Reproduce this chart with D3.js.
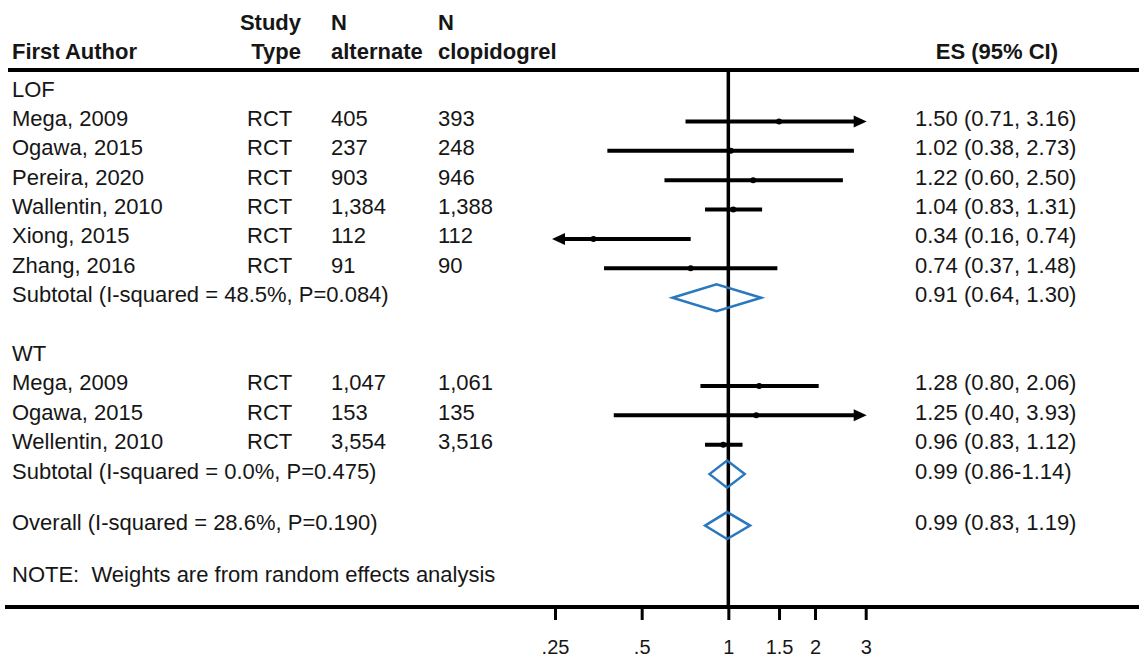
<!DOCTYPE html>
<html><head><meta charset="utf-8">
<script src="https://cdn.jsdelivr.net/npm/d3@7"></script>
<style>
body{margin:0;background:#fff}
text{font-family:"Liberation Sans",Arial,Helvetica,sans-serif;fill:#161616}
</style>
</head><body>
<svg id="chart" width="1139" height="661"></svg>
<script>
// ---------- data ----------
const groupNames = ["LOF", "WT"];
const studyAuthors = ["Mega, 2009","Ogawa, 2015","Pereira, 2020","Wallentin, 2010","Xiong, 2015","Zhang, 2016",
                      "Mega, 2009","Ogawa, 2015","Wellentin, 2010"];
const studyGroup = ["LOF","LOF","LOF","LOF","LOF","LOF","WT","WT","WT"];
const studyType = ["RCT","RCT","RCT","RCT","RCT","RCT","RCT","RCT","RCT"];
const nAlternate = ["405","237","903","1,384","112","91","1,047","153","3,554"];
const nClopidogrel = ["393","248","946","1,388","112","90","1,061","135","3,516"];
const studyES = [1.50, 1.02, 1.22, 1.04, 0.34, 0.74, 1.28, 1.25, 0.96];
const studyLow = [0.71, 0.38, 0.60, 0.83, 0.16, 0.37, 0.80, 0.40, 0.83];
const studyHigh = [3.16, 2.73, 2.50, 1.31, 0.74, 1.48, 2.06, 3.93, 1.12];
const studyESLabel = ["1.50 (0.71, 3.16)","1.02 (0.38, 2.73)","1.22 (0.60, 2.50)","1.04 (0.83, 1.31)",
                      "0.34 (0.16, 0.74)","0.74 (0.37, 1.48)","1.28 (0.80, 2.06)","1.25 (0.40, 3.93)","0.96 (0.83, 1.12)"];
const subtotalLabel = ["Subtotal (I-squared = 48.5%, P=0.084)","Subtotal (I-squared = 0.0%, P=0.475)"];
const subtotalES = [0.91, 0.99];
const subtotalLow = [0.64, 0.86];
const subtotalHigh = [1.30, 1.14];
const subtotalESLabel = ["0.91 (0.64, 1.30)","0.99 (0.86-1.14)"];
const overallLabel = "Overall (I-squared = 28.6%, P=0.190)";
const overallES = 0.99, overallLow = 0.83, overallHigh = 1.19;
const overallESLabel = "0.99 (0.83, 1.19)";
const noteText = "NOTE:  Weights are from random effects analysis";
const tickValues = [0.25, 0.5, 1, 1.5, 2, 3];
const tickLabels = [".25", ".5", "1", "1.5", "2", "3"];

// ---------- layout ----------
const W = 1139;
const svg = d3.select("#chart");
const fs = 22;
const col = {author: 12, typeRight: 301, type: 247, nAlt: 331, nClop: 438, es: 915, esHeaderRight: 1058};
const headerLineY = 70, axisY = 607;
const gapAfterGroup = [1, 0.75];
const gapAfterOverall = 0.75;

// build row list (row units; extra spacing after each subtotal)
const rows = [];
let pos = 0;
groupNames.forEach((g, gi) => {
  rows.push({kind: "group", pos: pos, label: g}); pos += 1;
  studyAuthors.forEach((a, i) => {
    if (studyGroup[i] !== g) return;
    rows.push({kind: "study", pos: pos, i: i}); pos += 1;
  });
  rows.push({kind: "subtotal", pos: pos, label: subtotalLabel[gi], es: subtotalES[gi],
             lo: subtotalLow[gi], hi: subtotalHigh[gi], esLabel: subtotalESLabel[gi]});
  pos += 1 + gapAfterGroup[gi];
});
rows.push({kind: "overall", pos: pos, label: overallLabel, es: overallES, lo: overallLow,
           hi: overallHigh, esLabel: overallESLabel});
pos += 1 + gapAfterOverall;
rows.push({kind: "note", pos: pos, label: noteText});

const y = d3.scaleLinear().domain([0, pos]).range([92, 577]);
const x = d3.scaleLog().domain([0.25, 3]).range([555, 865.7]);
const [xMin, xMax] = x.domain();

// ---------- header ----------
const hdr = svg.append("g").style("font-weight", "bold").style("font-size", fs + "px");
hdr.append("text").attr("x", col.author).attr("y", 59).text("First Author");
hdr.append("text").attr("x", col.typeRight).attr("y", 30).attr("text-anchor", "end").text("Study");
hdr.append("text").attr("x", col.typeRight).attr("y", 59).attr("text-anchor", "end").text("Type");
hdr.append("text").attr("x", col.nAlt).attr("y", 30).text("N");
hdr.append("text").attr("x", col.nAlt).attr("y", 59).text("alternate");
hdr.append("text").attr("x", col.nClop).attr("y", 30).text("N");
hdr.append("text").attr("x", col.nClop).attr("y", 59).text("clopidogrel");
hdr.append("text").attr("x", col.esHeaderRight).attr("y", 59).attr("text-anchor", "end").text("ES (95% CI)");

svg.append("line").attr("x1", 8).attr("x2", W).attr("y1", headerLineY).attr("y2", headerLineY)
  .attr("stroke", "#000").attr("stroke-width", 4);
svg.append("line").attr("x1", 5).attr("x2", W).attr("y1", axisY).attr("y2", axisY)
  .attr("stroke", "#000").attr("stroke-width", 4);

// null line at 1
svg.append("line").attr("x1", x(1)).attr("x2", x(1)).attr("y1", headerLineY).attr("y2", axisY)
  .attr("stroke", "#000").attr("stroke-width", 3.5);

// ---------- rows ----------
const txt = svg.append("g").style("font-size", fs + "px");
const marks = svg.append("g");
const base = 4.5;

function arrowHead(g, tipX, yy, dir) {
  const L = 13, h = 6;
  g.append("path")
    .attr("d", `M${tipX},${yy} L${tipX - dir * L},${yy - h} L${tipX - dir * L},${yy + h} Z`)
    .attr("fill", "#000");
}

rows.forEach(r => {
  const yy = y(r.pos);
  if (r.kind === "group") {
    txt.append("text").attr("x", col.author).attr("y", yy + base).text(r.label);
  } else if (r.kind === "study") {
    const i = r.i;
    txt.append("text").attr("x", col.author).attr("y", yy + base).text(studyAuthors[i]);
    txt.append("text").attr("x", col.type).attr("y", yy + base).text(studyType[i]);
    txt.append("text").attr("x", col.nAlt).attr("y", yy + base).text(nAlternate[i]);
    txt.append("text").attr("x", col.nClop).attr("y", yy + base).text(nClopidogrel[i]);
    txt.append("text").attr("x", col.es).attr("y", yy + base).text(studyESLabel[i]);
    const loClip = studyLow[i] < xMin, hiClip = studyHigh[i] > xMax;
    const lo = Math.max(studyLow[i], xMin), hi = Math.min(studyHigh[i], xMax);
    marks.append("line")
      .attr("x1", x(lo) + (loClip ? 10 : 0)).attr("x2", x(hi) - (hiClip ? 10 : 0))
      .attr("y1", yy).attr("y2", yy).attr("stroke", "#000").attr("stroke-width", 4);
    if (hiClip) arrowHead(marks, x(xMax) + 1, yy, 1);
    if (loClip) arrowHead(marks, x(xMin) - 3, yy, -1);
    marks.append("circle").attr("cx", x(studyES[i])).attr("cy", yy).attr("r", 3).attr("fill", "#000");
  } else if (r.kind === "subtotal" || r.kind === "overall") {
    txt.append("text").attr("x", col.author).attr("y", yy + base).text(r.label);
    txt.append("text").attr("x", col.es).attr("y", yy + base).text(r.esLabel);
    const hh = 13.5;
    marks.append("path")
      .attr("d", `M${x(r.lo)},${yy} L${x(r.es)},${yy - hh} L${x(r.hi)},${yy} L${x(r.es)},${yy + hh} Z`)
      .attr("fill", "none").attr("stroke", "#2a78be").attr("stroke-width", 2.5);
  } else if (r.kind === "note") {
    txt.append("text").attr("x", col.author).attr("y", yy + base)
      .attr("xml:space", "preserve").style("white-space", "pre").text(r.label);
  }
});

// ---------- axis ----------
const axis = d3.axisBottom(x).tickValues(tickValues)
  .tickFormat((d, i) => tickLabels[i]).tickSize(13).tickPadding(20);
const ax = svg.append("g").attr("transform", `translate(0,${axisY})`).call(axis);
ax.select(".domain").remove();
ax.selectAll(".tick line").attr("stroke", "#000").attr("stroke-width", 3);
ax.selectAll(".tick text").attr("font-size", 20)
  .attr("font-family", '"Liberation Sans",Arial,sans-serif').attr("fill", "#161616");
</script>
</body></html>
